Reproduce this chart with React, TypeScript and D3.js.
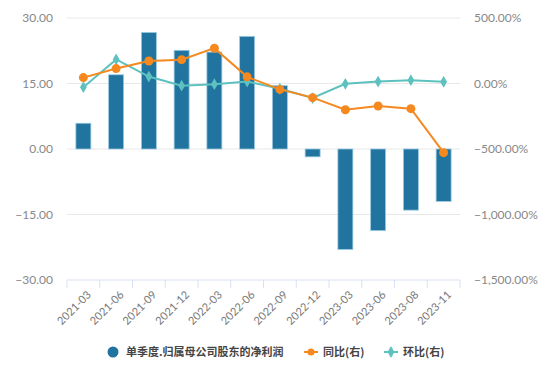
import React from "react";
import * as d3 from "d3";

const categories = ["2021-03","2021-06","2021-09","2021-12","2022-03","2022-06","2022-09","2022-12","2023-03","2023-06","2023-08","2023-11"];
const netProfit = [5.9, 17.0, 26.7, 22.6, 22.2, 25.8, 14.5, -1.8, -23.0, -18.7, -14.0, -12.0];
const yoy = [45, 114, 172, 182, 270, 51, -45, -108, -200, -172, -192, -528];
const qoq = [-28, 184, 53, -17, -5, 15, -40, -111, -2, 15, 25, 13];
const leftTicks = [30, 15, 0, -15, -30];
const rightTicks = [500, 0, -500, -1000, -1500];
const legendLabels = ["单季度.归属母公司股东的净利润", "同比(右)", "环比(右)"];

const W = 554, H = 383;
const L = 67, R = 460, T = 18, B = 280;
const BAR = "#21749f", ORANGE = "#f5891f", TEAL = "#5cc1bf";
const numFont = "Lato, 'Open Sans', sans-serif";
const cjkFont = "'Noto Sans CJK SC', sans-serif";

export default function App() {
  const x = d3.scaleBand().domain(categories).range([L, R]);
  const yL = d3.scaleLinear().domain([-30, 30]).range([B, T]);
  const yR = d3.scaleLinear().domain([-1500, 500]).range([B, T]);
  const bw = 15;
  const fmtL = (v: number) => d3.format(".2f")(v).replace("-", "−");
  const fmtR = (v: number) => d3.format(",.2f")(v).replace("-", "−") + "%";
  const line = (vals: number[]) =>
    d3.line<number>().x((_, i) => x(categories[i])! + x.bandwidth() / 2).y((v) => yR(v))(vals)!;
  const diamond = d3.symbol().type(d3.symbolDiamond).size(40)()!;

  return (
    <svg width={W} height={H} style={{ position: "absolute", left: 0, top: 0, background: "#fff" }}>
      {leftTicks.map((t) => (
        <g key={t}>
          {t !== -30 && <line x1={L} x2={R} y1={yL(t)} y2={yL(t)} stroke="#e8e8e8" strokeWidth={1} />}
          <text x={53} y={yL(t)} dy="0.35em" textAnchor="end" fontSize={12} fill="#888" fontFamily={numFont}>{fmtL(t)}</text>
        </g>
      ))}
      {rightTicks.map((t) => (
        <text key={t} x={474} y={yR(t)} dy="0.35em" textAnchor="start" fontSize={12} fill="#888" fontFamily={numFont}>{fmtR(t)}</text>
      ))}
      <line x1={L} x2={R} y1={B} y2={B} stroke="#dae1f3" strokeWidth={1} />
      {categories.concat(["end"]).map((c, i) => {
        const xx = L + i * x.step();
        return <line key={c} x1={xx} x2={xx} y1={B} y2={B + 8} stroke="#dae1f3" strokeWidth={1} />;
      })}
      {categories.map((c) => {
        const cx = x(c)! + x.bandwidth() / 2;
        return (
          <text key={c} transform={`translate(${cx + 3},${B + 10}) rotate(-45)`} textAnchor="end" dy="0.7em"
            fontSize={11} fill="#777" fontFamily={numFont}>{c}</text>
        );
      })}
      {netProfit.map((v, i) => {
        const cx = x(categories[i])! + x.bandwidth() / 2;
        const y0 = yL(0), y1 = yL(v);
        return (
          <rect key={i} x={cx - bw / 2} y={Math.min(y0, y1)} width={bw} height={Math.abs(y1 - y0)}
            fill={BAR} stroke="#9ccbe0" strokeWidth={0.8} />
        );
      })}
      <path d={line(qoq)} fill="none" stroke={TEAL} strokeWidth={2} />
      {qoq.map((v, i) => (
        <path key={i} d={diamond} transform={`translate(${x(categories[i])! + x.bandwidth() / 2},${yR(v)})`} fill={TEAL} />
      ))}
      <path d={line(yoy)} fill="none" stroke={ORANGE} strokeWidth={2} />
      {yoy.map((v, i) => (
        <circle key={i} cx={x(categories[i])! + x.bandwidth() / 2} cy={yR(v)} r={4.5} fill={ORANGE} />
      ))}
      <g fontFamily={cjkFont} fontSize={11} fontWeight="bold" fill="#444">
        <circle cx={113} cy={352} r={5.5} fill={BAR} />
        <text x={126} y={352} dy="0.35em">{legendLabels[0]}</text>
        <line x1={304} x2={318} y1={352} y2={352} stroke={ORANGE} strokeWidth={2} />
        <circle cx={311} cy={352} r={3.5} fill={ORANGE} />
        <text x={323} y={352} dy="0.35em">{legendLabels[1]}</text>
        <line x1={384} x2={398} y1={352} y2={352} stroke={TEAL} strokeWidth={2} />
        <path d={diamond} transform="translate(391,352)" fill={TEAL} />
        <text x={403} y={352} dy="0.35em">{legendLabels[2]}</text>
      </g>
    </svg>
  );
}
